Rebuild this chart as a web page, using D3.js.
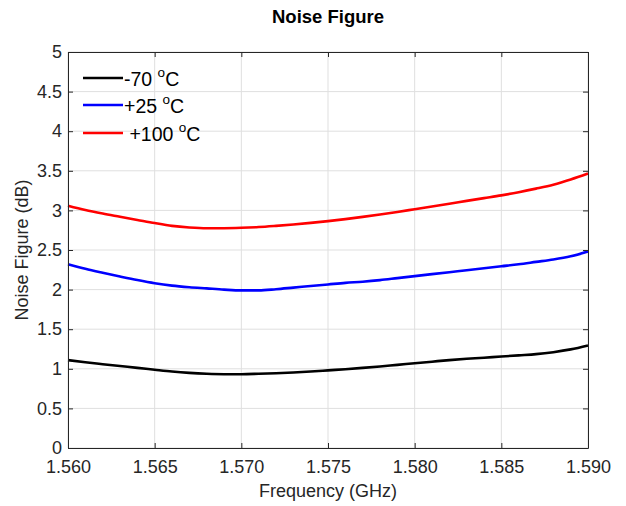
<!DOCTYPE html>
<html><head><meta charset="utf-8">
<script src="https://cdn.jsdelivr.net/npm/d3@7/dist/d3.min.js"></script>
<style>body{margin:0;background:#fff;} text{font-family:"Liberation Sans",Arial,sans-serif;}</style>
</head><body><svg id="c" width="626" height="506"></svg>
<script>
const freq = [1.560,1.561,1.562,1.563,1.564,1.565,1.566,1.567,1.568,1.569,1.570,1.571,1.572,1.573,1.574,1.575,1.576,1.577,1.578,1.579,1.580,1.581,1.582,1.583,1.584,1.585,1.586,1.587,1.588,1.589,1.590];
const nfMinus70 = [1.110,1.082,1.058,1.035,1.012,0.988,0.965,0.948,0.937,0.932,0.932,0.937,0.944,0.953,0.965,0.980,0.995,1.012,1.030,1.050,1.070,1.090,1.110,1.126,1.140,1.155,1.170,1.185,1.210,1.245,1.295];
const nfPlus25 = [2.320,2.262,2.212,2.165,2.120,2.080,2.050,2.030,2.015,2.000,1.990,1.990,2.005,2.025,2.045,2.065,2.085,2.100,2.120,2.145,2.170,2.195,2.220,2.245,2.270,2.295,2.320,2.350,2.380,2.420,2.480];
const nfPlus100 = [3.060,3.005,2.960,2.920,2.880,2.840,2.805,2.785,2.775,2.775,2.780,2.790,2.805,2.822,2.842,2.865,2.890,2.918,2.948,2.980,3.015,3.050,3.085,3.120,3.155,3.190,3.230,3.275,3.325,3.390,3.465];
const seriesNames = ["-70 ", "+25 ", " +100 "];
const xTicks = [1.560,1.565,1.570,1.575,1.580,1.585,1.590];
const yTicks = [0,0.5,1,1.5,2,2.5,3,3.5,4,4.5,5];

const colors = ["#000000","#0000ff","#ff0000"];
const series = [nfMinus70, nfPlus25, nfPlus100];
const L=68,R=588,T=52,B=448;
const svg = d3.select("#c");
const x = d3.scaleLinear().domain([1.560,1.590]).range([L,R]);
const y = d3.scaleLinear().domain([0,5]).range([B,T]);
const axisCol="#262626";
const FONT="Liberation Sans, Arial, sans-serif";

// grid
const g = svg.append("g");
g.selectAll(".gx").data(xTicks).enter().append("line")
 .attr("x1",d=>x(d)).attr("x2",d=>x(d)).attr("y1",T).attr("y2",B)
 .attr("stroke","#dfdfdf").attr("stroke-width",1);
g.selectAll(".gy").data(yTicks).enter().append("line")
 .attr("y1",d=>y(d)).attr("y2",d=>y(d)).attr("x1",L).attr("x2",R)
 .attr("stroke","#dfdfdf").attr("stroke-width",1);

// lines
const line = d3.line().x((d,i)=>x(freq[i])).y(d=>y(d)).curve(d3.curveMonotoneX);
series.forEach((s,k)=>{
  svg.append("path").datum(s).attr("d",line).attr("fill","none")
   .attr("stroke",colors[k]).attr("stroke-width",2.6).attr("stroke-linejoin","round");
});

// axes
const fmtX = d3.format(".3f");
const fmtY = d=>String(d);
svg.append("g").attr("transform",`translate(0,${B})`)
 .call(d3.axisBottom(x).tickValues(xTicks).tickFormat(fmtX).tickSizeInner(-5).tickSizeOuter(0).tickPadding(12))
 .call(a=>{a.select(".domain").attr("stroke",axisCol);a.selectAll("line").attr("stroke",axisCol);a.selectAll("text").attr("fill",axisCol).attr("font-size",18).attr("font-family",FONT);});
svg.append("g").attr("transform",`translate(0,${T})`)
 .call(d3.axisTop(x).tickValues(xTicks).tickFormat("").tickSizeInner(-5).tickSizeOuter(0))
 .call(a=>{a.select(".domain").attr("stroke",axisCol);a.selectAll("line").attr("stroke",axisCol);});
svg.append("g").attr("transform",`translate(${L},0)`)
 .call(d3.axisLeft(y).tickValues(yTicks).tickFormat(fmtY).tickSizeInner(-5).tickSizeOuter(0).tickPadding(6))
 .call(a=>{a.select(".domain").attr("stroke",axisCol);a.selectAll("line").attr("stroke",axisCol);a.selectAll("text").attr("fill",axisCol).attr("font-size",18).attr("font-family",FONT);});
svg.append("g").attr("transform",`translate(${R},0)`)
 .call(d3.axisRight(y).tickValues(yTicks).tickFormat("").tickSizeInner(-5).tickSizeOuter(0))
 .call(a=>{a.select(".domain").attr("stroke",axisCol);a.selectAll("line").attr("stroke",axisCol);});

// title & labels
svg.append("text").attr("x",(L+R)/2).attr("y",23).attr("text-anchor","middle")
 .attr("font-size",18.5).attr("font-weight","bold").attr("fill","#000").text("Noise Figure");
svg.append("text").attr("x",(L+R)/2).attr("y",497).attr("text-anchor","middle")
 .attr("font-size",18).attr("fill",axisCol).text("Frequency (GHz)");
svg.append("text").attr("transform",`translate(28,${(T+B)/2}) rotate(-90)`).attr("text-anchor","middle")
 .attr("font-size",18).attr("fill",axisCol).text("Noise Figure (dB)");

// legend
const legY = [78,105,133];
seriesNames.forEach((n,k)=>{
  svg.append("line").attr("x1",83).attr("x2",123).attr("y1",legY[k]).attr("y2",legY[k])
   .attr("stroke",colors[k]).attr("stroke-width",2.6);
  const t = svg.append("text").attr("x",124).attr("y",legY[k]+8).attr("font-size",19.5).attr("fill","#000")
   .attr("xml:space","preserve").style("white-space","pre");
  t.append("tspan").text(n);
  t.append("tspan").attr("dy",-9).attr("font-size",13.5).text("o");
  t.append("tspan").attr("dy",9).text("C");
});
</script></body></html>
